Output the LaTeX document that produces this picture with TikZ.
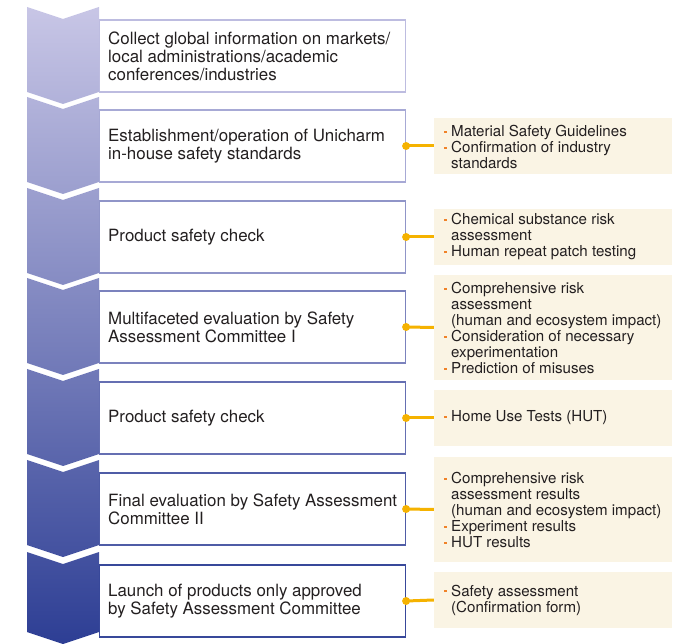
\documentclass[tikz,border=0pt]{standalone}
\usepackage{fontspec}
\setmainfont{TeX Gyre Heros}
\definecolor{ctop}{RGB}{200,198,230}
\definecolor{cbot}{RGB}{45,62,148}
\definecolor{orng}{RGB}{245,178,0}
\definecolor{bulc}{RGB}{240,130,40}
\definecolor{beige}{RGB}{250,244,228}
\definecolor{txt}{RGB}{35,31,32}
\newcommand\bul{\leavevmode\llap{\textcolor{bulc}{\rule[3.8pt]{2.2pt}{2.2pt}}\hspace{4.6pt}}}
\tikzset{
  mainbox/.style={draw, line width=1.2pt, minimum width=306pt, minimum height=72pt, inner sep=0pt},
  maintext/.style={anchor=west, align=left, inner sep=0pt, text=txt, font=\fontsize{16.9}{18}\selectfont},
  sidebox/.style={fill=beige, minimum width=238pt, inner sep=0pt},
  sidetext/.style={anchor=west, align=left, inner sep=0pt, text=txt, font=\fontsize{15.1}{16}\selectfont},
  conn/.style={draw=orng, line width=3pt},
  dot/.style={fill=orng}
}
\begin{document}
\begin{tikzpicture}[x=1pt,y=-1pt]
\useasboundingbox (0,0) rectangle (678,644);
% main boxes
\foreach \i/\T in {1/20,2/110,3/201,4/291,5/382,6/473,7/565}{
  \pgfmathtruncatemacro\pc{(\T+36-7)/637*100}
  \node[mainbox, draw=cbot!\pc!ctop] (b\i) at (252.5,\T+36) {};
}
% chevrons
\foreach \T/\bcor/\tip in {20/92/104,110/182/194,201/273/285,291/363/375,382/454/466,473/545/557,565/632/644}{
  \pgfmathtruncatemacro\pa{(\T-13-7)/637*100}
  \pgfmathtruncatemacro\pb{min(100,(\tip-7)/637*100)}
  \shade[top color=cbot!\pa!ctop, bottom color=cbot!\pb!ctop]
    (27,\T-13) -- (63,\T-1) -- (99,\T-13) -- (99,\bcor) -- (63,\tip) -- (27,\bcor) -- cycle;
}
% main texts
\node[maintext] (t1) at (108,56) {Collect global information on markets/\\local administrations/academic\\conferences/industries};
\node[maintext] (t2) at (108,146) {Establishment/operation of Unicharm\\in-house safety standards};
\node[maintext] (t3) at (108,237) {Product safety check};
\node[maintext] (t4) at (108,327) {Multifaceted evaluation by Safety\\Assessment Committee I};
\node[maintext] (t5) at (108,418) {Product safety check};
\node[maintext] (t6) at (108,509) {Final evaluation by Safety Assessment\\Committee II};
\node[maintext] (t7) at (108,601) {Launch of products only approved\\by Safety Assessment Committee};
% side boxes
\node[sidebox, minimum height=56pt] (r2) at (553,146) {};
\node[sidebox, minimum height=56pt] (r3) at (553,237) {};
\node[sidebox, minimum height=105pt] (r4) at (553,327.5) {};
\node[sidebox, minimum height=56pt] (r5) at (553,418) {};
\node[sidebox, minimum height=105pt] (r6) at (553,509.5) {};
\node[sidebox, minimum height=56pt] (r7) at (553,600) {};
% side texts
\node[sidetext] (s2) at (451,147) {\bul Material Safety Guidelines\\\bul Confirmation of industry\\standards};
\node[sidetext] (s3) at (451,237) {\bul Chemical substance risk\\assessment\\\bul Human repeat patch testing};
\node[sidetext] (s4) at (451,328) {\bul Comprehensive risk\\assessment\\(human and ecosystem impact)\\\bul Consideration of necessary\\experimentation\\\bul Prediction of misuses};
\node[sidetext] (s5) at (451,418) {\bul Home Use Tests (HUT)};
\node[sidetext] (s6) at (451,510) {\bul Comprehensive risk\\assessment results\\(human and ecosystem impact)\\\bul Experiment results\\\bul HUT results};
\node[sidetext] (s7) at (451,600) {\bul Safety assessment\\(Confirmation form)};
% connectors
\foreach \i in {2,...,7}{
  \draw[conn] (b\i.east) -- (r\i.west);
  \fill[dot] (b\i.east) circle (4pt);
}
\end{tikzpicture}
\end{document}
